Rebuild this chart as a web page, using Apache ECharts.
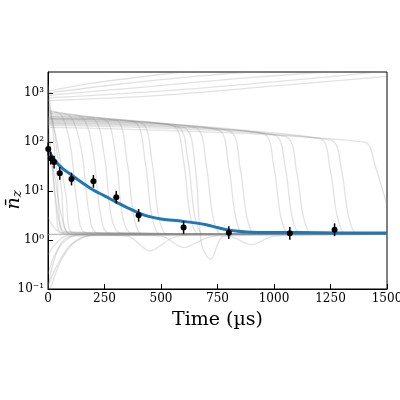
<!DOCTYPE html>
<html><head><meta charset="utf-8">
<script src="https://cdn.jsdelivr.net/npm/echarts@6/dist/echarts.min.js"></script>
<style>html,body{margin:0;background:#fff}#c{width:400px;height:400px}</style>
</head><body><div id="c"></div>
<script>
// measured points
const measTime = [1, 12, 27, 52, 104, 201, 302, 401, 600, 800, 1070, 1268];
const measVal = [72, 47, 39, 23, 17.6, 15.8, 7.5, 3.2, 1.8, 1.41, 1.37, 1.62];
// blue model line
const modelLine = [[0,72],[25,46],[60,30],[100,22],[150,15],[200,10.5],[250,8],[300,6],[350,4.6],[400,3.6],[450,3.0],[500,2.7],[600,2.4],[700,2.05],[750,1.8],[800,1.6],[900,1.45],[1100,1.42],[1300,1.4],[1500,1.4]];
// gray simulated trajectories
const grayLines = [
  [[0,450],[60,350],[100,80],[130,5],[170,1.4],[1500,1.3]],
  [[0,420],[100,330],[150,60],[180,4],[220,1.4],[1500,1.3]],
  [[0,400],[150,320],[200,60],[230,4],[270,1.4],[1500,1.3]],
  [[0,380],[200,300],[250,50],[280,3],[320,1.4],[1500,1.3]],
  [[0,360],[250,290],[300,50],[330,3],[370,1.4],[1500,1.3]],
  [[0,340],[300,280],[350,40],[380,3],[420,1.3],[1500,1.3]],
  [[0,330],[380,260],[430,40],[460,3],[500,1.3],[1500,1.3]],
  [[0,320],[410,250],[460,40],[490,3],[530,1.3],[1500,1.3]],
  [[0,310],[550,220],[600,40],[630,3],[670,1.3],[1500,1.3]],
  [[0,300],[570,210],[620,40],[650,3],[690,1.3],[1500,1.3]],
  [[0,300],[600,200],[650,35],[680,0.8],[720,0.4],[780,1.2],[1500,1.3]],
  [[0,290],[650,200],[700,35],[730,3],[770,1.3],[1500,1.3]],
  [[0,280],[750,180],[800,30],[830,3],[870,1.3],[1500,1.3]],
  [[0,270],[800,170],[850,30],[880,3],[920,1.3],[1500,1.3]],
  [[0,260],[950,150],[1000,30],[1030,3],[1070,1.3],[1500,1.3]],
  [[0,250],[1000,140],[1050,30],[1080,3],[1120,1.3],[1500,1.3]],
  [[0,240],[1050,130],[1100,25],[1130,3],[1170,1.3],[1500,1.3]],
  [[0,230],[1200,120],[1250,25],[1280,3],[1320,1.3],[1500,1.3]],
  [[0,220],[1250,110],[1300,25],[1330,3],[1370,1.3],[1500,1.3]],
  [[0,200],[1400,100],[1450,30],[1500,5]],
  [[0,700],[500,900],[1000,1400],[1500,2200]],
  [[0,800],[500,1100],[1000,1700],[1500,2800]],
  [[0,900],[400,1300],[900,2100],[1300,2800]],
  [[0,1000],[300,1500],[700,2300],[950,2800]],
  [[0,1100],[200,1600],[500,2400],[650,2800]],
  [[0,1500],[20,200],[40,20],[70,1.5],[1500,1.3]],
  [[0,800],[30,150],[60,10],[90,1.4],[1500,1.3]],
  [[0,600],[40,100],[80,8],[110,1.4],[1500,1.3]],
  [[0,300],[15,50],[35,5],[60,1.4],[1500,1.3]],
  [[0,150],[20,30],[45,3],[80,1.3],[1500,1.3]],
  [[0,100],[30,20],[60,3],[100,1.3],[1500,1.3]],
  [[0,0.1],[20,0.3],[60,0.9],[120,1.25],[1500,1.3]],
  [[0,0.12],[40,0.3],[100,0.8],[200,1.25],[1500,1.3]],
  [[0,0.2],[30,0.5],[80,1.0],[150,1.3],[1500,1.3]],
  [[10,0.1],[60,0.4],[130,1.0],[220,1.3],[1500,1.3]],
  [[0,0.5],[30,0.8],[80,1.2],[1500,1.3]],
  [[0,3],[20,2],[60,1.4],[1500,1.3]],
  [[0,1.3],[350,1.2],[450,0.6],[550,1.1],[650,1.3],[1500,1.3]],
  [[0,1.3],[500,1.2],[600,0.7],[700,1.1],[800,1.3],[1500,1.3]],
  [[0,1.3],[800,1.2],[900,0.8],[1000,1.2],[1500,1.3]]
];

const series = grayLines.map(d => ({
  type: 'line', data: d, smooth: 0.3, symbol: 'none', silent: true,
  lineStyle: { color: 'rgba(140,140,140,0.25)', width: 1.3 }
}));
series.push({
  type: 'line', data: modelLine, smooth: 0.4, symbol: 'none', z: 5,
  lineStyle: { color: '#1f77b4', width: 3 }
});
series.push({
  type: 'custom', z: 6,
  data: measTime.map((t, i) => [t, measVal[i]]),
  renderItem: (params, api) => {
    const t = api.value(0), v = api.value(1);
    const c = api.coord([t, v]);
    const lo = api.coord([t, v / 1.35]), hi = api.coord([t, v * 1.35]);
    return { type: 'group', children: [
      { type: 'line', shape: { x1: c[0], y1: lo[1], x2: c[0], y2: hi[1] }, style: { stroke: '#000', lineWidth: 1.5 } },
      { type: 'circle', shape: { cx: c[0], cy: c[1], r: 3 }, style: { fill: '#000' } }
    ]};
  }
});

const supMap = { '-1': '⁻¹', '0': '⁰', '1': '¹', '2': '²', '3': '³' };
const serif = 'DejaVu Serif';
const chart = echarts.init(document.getElementById('c'));
chart.setOption({
  animation: false,
  grid: { left: 48, right: 13, top: 72, bottom: 111, containLabel: false, outerBoundsMode: 'none',
    show: true, borderColor: '#000', borderWidth: 1 },
  graphic: [{
    type: 'text', x: 14, y: 200, rotation: Math.PI / 2,
    style: { text: '{n|n̄}{s|z}', align: 'center', verticalAlign: 'middle', rich: {
      n: { fontFamily: serif, fontStyle: 'italic', fontSize: 19, fill: '#000' },
      s: { fontFamily: serif, fontStyle: 'italic', fontSize: 13, fill: '#000', padding: [8, 0, 0, 0] }
    } }
  }],
  xAxis: {
    type: 'value', min: 0, max: 1500, interval: 250,
    name: 'Time (µs)', nameLocation: 'middle', nameGap: 22,
    nameTextStyle: { fontFamily: serif, fontSize: 19, color: '#000' },
    axisLine: { lineStyle: { color: '#000' } },
    axisTick: { inside: true, lineStyle: { color: '#000' } },
    axisLabel: { fontFamily: serif, fontSize: 12, color: '#000', margin: 4, formatter: v => String(v) },
    splitLine: { show: false }
  },
  yAxis: {
    type: 'log', min: 0.1, max: 2700, logBase: 10,
    axisLine: { show: true, lineStyle: { color: '#000' } },
    axisTick: { inside: true, lineStyle: { color: '#000' } },
    axisLabel: {
      fontFamily: serif, fontSize: 12, color: '#000', margin: 4, showMaxLabel: false,
      formatter: v => { const e = Math.round(Math.log10(v)); return Math.abs(Math.log10(v) - e) > 0.01 ? '' : '10' + (supMap[e] || ''); }
    },
    splitLine: { show: false }
  },
  series
});
</script></body></html>
